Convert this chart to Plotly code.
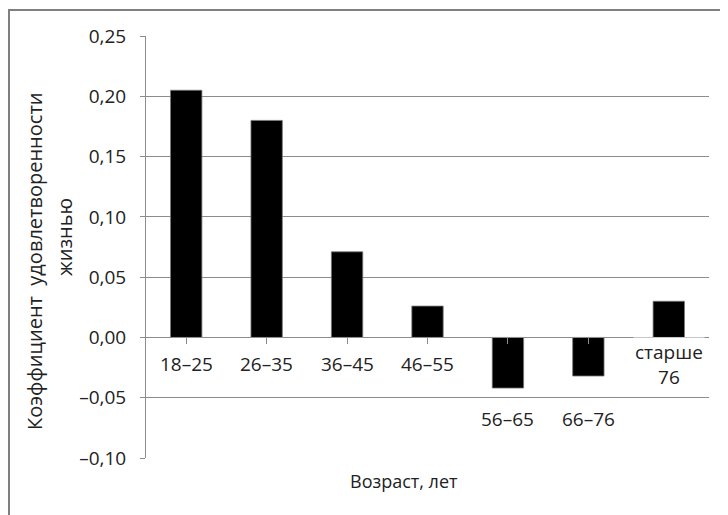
import plotly.graph_objects as go

categories = ["18–25", "26–35", "36–45", "46–55", "56–65", "66–76", "старше<br>76"]
values = [0.205, 0.180, 0.071, 0.026, -0.042, -0.032, 0.030]
y_tickvals = [-0.10, -0.05, 0.0, 0.05, 0.10, 0.15, 0.20, 0.25]
y_ticktext = ["–0,10", "–0,05", "0,00", "0,05", "0,10", "0,15", "0,20", "0,25"]
y_title_lines = ["Коэффициент  удовлетворенности", "жизнью"]
x_title = "Возраст, лет"

FONT = "Open Sans"
GRID = "#8c8c8c"
TXT = "#222222"
y_min, y_max = -0.10, 0.25

OFF = 8  # page body margin
W, H = 720, 507
ML, MR, MT, MB = 138, 19, 28, 57
pw = W - ML - MR
ph = H - MT - MB

def px_x(px):
    return (px - OFF - ML) / pw

def px_y(py):
    return (H - MB - (py - OFF)) / ph

fig = go.Figure()
fig.add_trace(go.Bar(
    x=list(range(len(categories))), y=values,
    marker=dict(color="black", line=dict(color="#777777", width=0.8)),
    width=0.39, hoverinfo="skip",
))

annotations = []
for i, (c, v) in enumerate(zip(categories, values)):
    if v >= 0:
        yv, shift = 0.0, -27
    else:
        yv, shift = -0.05, -21
    annotations.append(dict(
        x=i, y=yv, xref="x", yref="y", text=c, showarrow=False,
        yshift=shift, font=dict(family=FONT, size=19, color=TXT),
        yanchor="middle", xanchor="center", bgcolor="white",
    ))

annotations.append(dict(
    x=px_x(34), y=px_y(261), xref="paper", yref="paper",
    text=y_title_lines[0], textangle=-90, showarrow=False,
    font=dict(family=FONT, size=20, color=TXT), xanchor="center", yanchor="middle",
))
annotations.append(dict(
    x=px_x(64), y=px_y(237), xref="paper", yref="paper",
    text=y_title_lines[1], textangle=-90, showarrow=False,
    font=dict(family=FONT, size=20, color=TXT), xanchor="center", yanchor="middle",
))
annotations.append(dict(
    x=px_x(404), y=px_y(481), xref="paper", yref="paper",
    text=x_title, showarrow=False,
    font=dict(family=FONT, size=18, color=TXT), xanchor="center", yanchor="middle",
))

zero_pos = (0 - y_min) / (y_max - y_min)

fig.update_layout(
    width=W, height=H,
    margin=dict(l=ML, r=MR, t=MT, b=MB, pad=0),
    paper_bgcolor="white", plot_bgcolor="white",
    showlegend=False,
    bargap=0.61,
    font=dict(family=FONT, color=TXT),
    xaxis=dict(
        range=[-0.5, len(categories) - 0.5],
        tickmode="array", tickvals=list(range(len(categories))),
        ticktext=[""] * len(categories), showticklabels=False,
        tickson="boundaries", ticks="outside", ticklen=6, tickcolor=GRID,
        showline=True, linecolor=GRID, linewidth=1,
        showgrid=False, zeroline=False,
        anchor="free", position=zero_pos,
    ),
    yaxis=dict(
        range=[y_min, y_max],
        tickmode="array", tickvals=y_tickvals, ticktext=y_ticktext,
        ticks="outside", ticklen=5, tickcolor=GRID,
        showline=True, linecolor=GRID, linewidth=1,
        showgrid=True, gridcolor=GRID, gridwidth=1,
        zeroline=False,
        tickfont=dict(family=FONT, size=19, color=TXT),
        ticklabelstandoff=10,
    ),
    annotations=annotations,
    shapes=[dict(
        type="rect", xref="paper", yref="paper",
        x0=px_x(OFF + 1), x1=px_x(760), y0=px_y(560), y1=px_y(OFF + 2),
        line=dict(color="#7f7f7f", width=2), fillcolor="rgba(0,0,0,0)", layer="above",
    )],
)

fig.write_html("out.html")
